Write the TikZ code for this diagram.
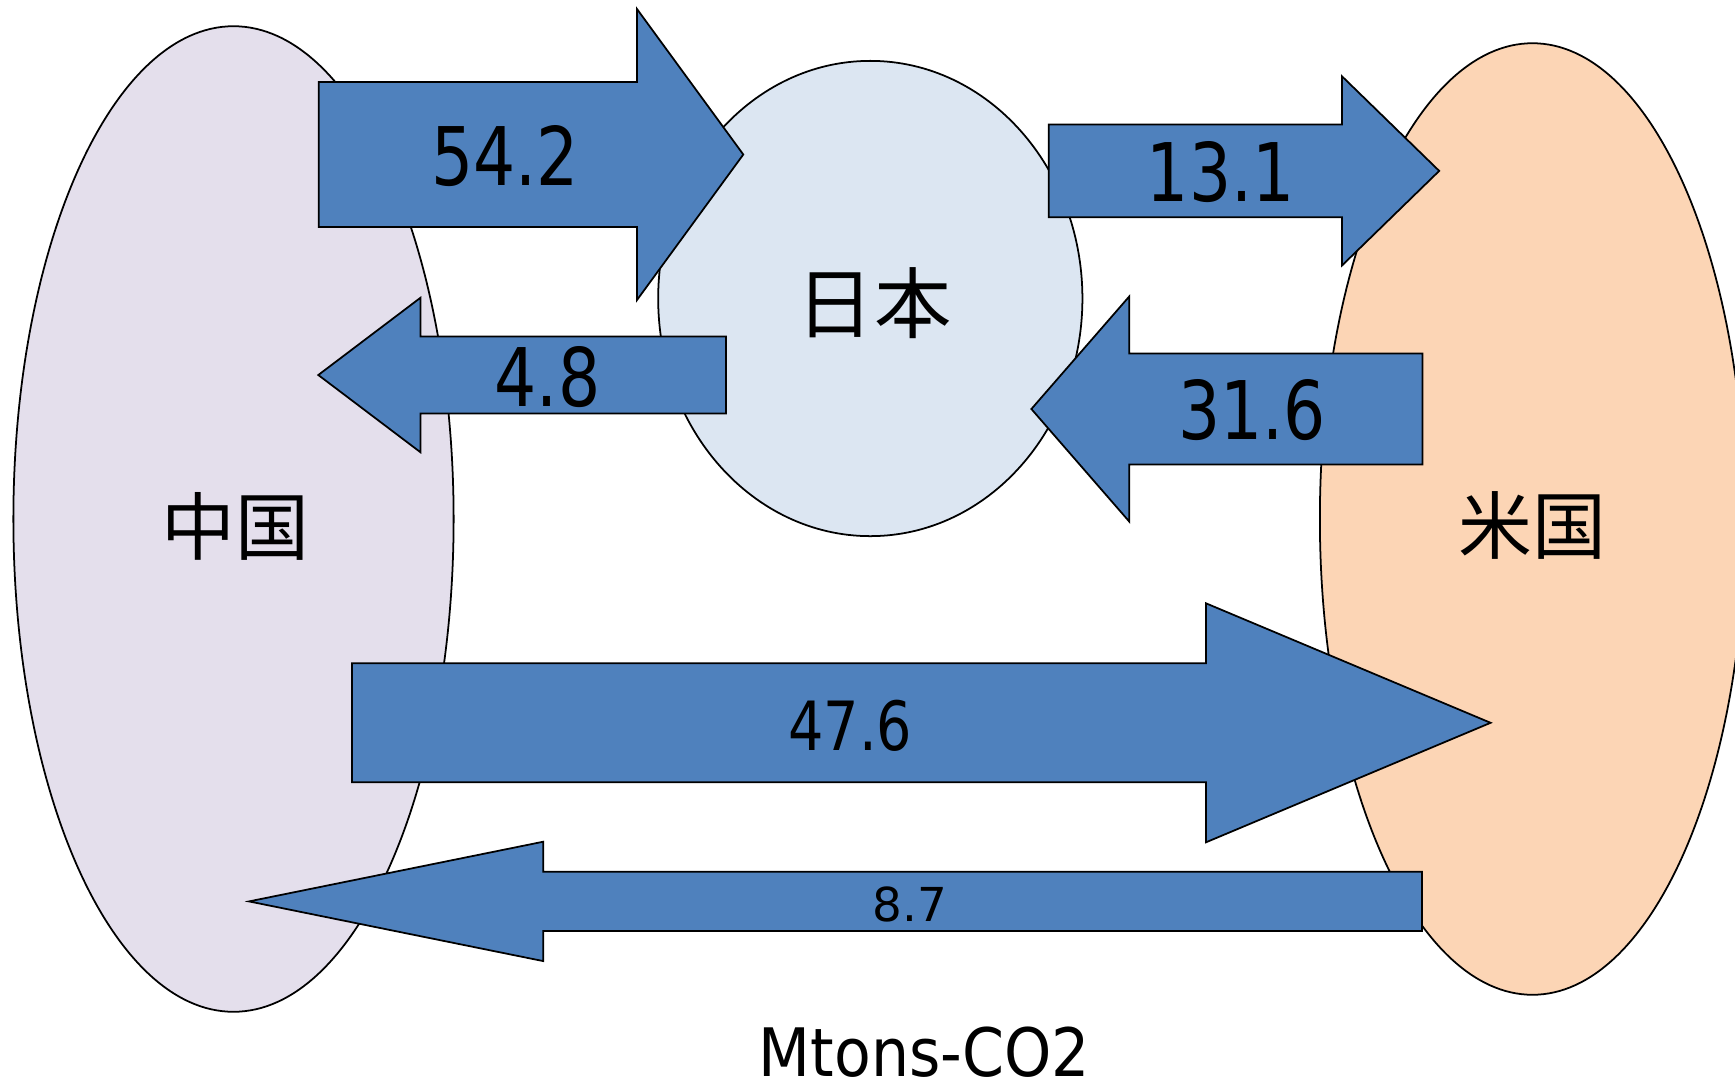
\documentclass[tikz,border=0pt]{standalone}
\usepackage{fontspec}
\setmainfont{DejaVu Sans}
\newfontfamily\numfont{DejaVu Sans}[FakeStretch=0.82]
\newfontfamily\unitfont{DejaVu Sans}[FakeStretch=0.9]
\newfontfamily\cjk{Noto Sans CJK JP}
\usetikzlibrary{shapes.geometric}

\definecolor{chinafill}{HTML}{E4DFEC}
\definecolor{japanfill}{HTML}{DCE6F2}
\definecolor{usfill}{HTML}{FCD5B5}
\definecolor{flowblue}{HTML}{4F81BD}

\tikzset{
  country/.style={draw=black, line width=0.5pt, ellipse, inner sep=0pt},
  flow/.style={draw=black, line width=0.5pt, fill=flowblue, line join=miter},
  flowlabel/.style={font=\numfont\fontsize{23}{23}\selectfont, inner sep=0pt},
  countrylabel/.style={font=\cjk\fontsize{21}{21}\selectfont, inner sep=0pt}
}

\begin{document}
\begin{tikzpicture}[x=0.01cm, y=-0.01cm]
\clip (0,0) rectangle (1735,1084);

% Countries
\node[country, fill=chinafill, minimum width=4.40cm, minimum height=9.85cm] (china) at (233.5,519) {};
\node[country, fill=japanfill, minimum width=4.24cm, minimum height=4.75cm] (japan) at (870.3,298.5) {};
\node[country, fill=usfill, minimum width=4.25cm, minimum height=9.51cm] (us) at (1532.5,519) {};

\node[countrylabel] (chinaname) at (235,526.5) {中国};
\node[countrylabel, font=\cjk\fontsize{22}{22}\selectfont] (japanname) at (874,303) {日本};
\node[countrylabel] (usname) at (1532.5,525.5) {米国};

% Flows: tail / head base / tip / centre y / half shaft / half head
\foreach \tl/\bs/\tp/\yc/\sh/\hh in {
    318.7/637/743.3/154.5/72.5/145.5,
    726/420.4/318.3/375/38.4/77.2,
    1048.7/1342/1439.2/170.9/46.3/94.6,
    1422.5/1129.2/1031.4/409/55.4/112.5,
    351.9/1206/1490.6/722.8/59.5/119.5,
    1422/543.3/249/901.4/29.6/59.7}
  \draw[flow] (\tl,\yc-\sh) -- (\bs,\yc-\sh) -- (\bs,\yc-\hh) -- (\tp,\yc)
    -- (\bs,\yc+\hh) -- (\bs,\yc+\sh) -- (\tl,\yc+\sh) -- cycle;

% Flow values
\node[flowlabel] (cj) at (505,155.7) {54.2};
\node[flowlabel] (jc) at (547.5,376.7) {4.8};
\node[flowlabel] (ju) at (1220.7,172.3) {13.1};
\node[flowlabel] (uj) at (1252,409.9) {31.6};
\node[flowlabel, font=\numfont\fontsize{19.3}{19.3}\selectfont] (cu) at (850.4,725.8) {47.6};
\node[flowlabel, font=\fontsize{13.3}{13.3}\selectfont] (uc) at (910,904.5) {8.7};

% Unit
\node[inner sep=0pt, font=\unitfont\fontsize{19}{19}\selectfont] (unit) at (924.4,1052) {Mtons-CO2};

\end{tikzpicture}
\end{document}
